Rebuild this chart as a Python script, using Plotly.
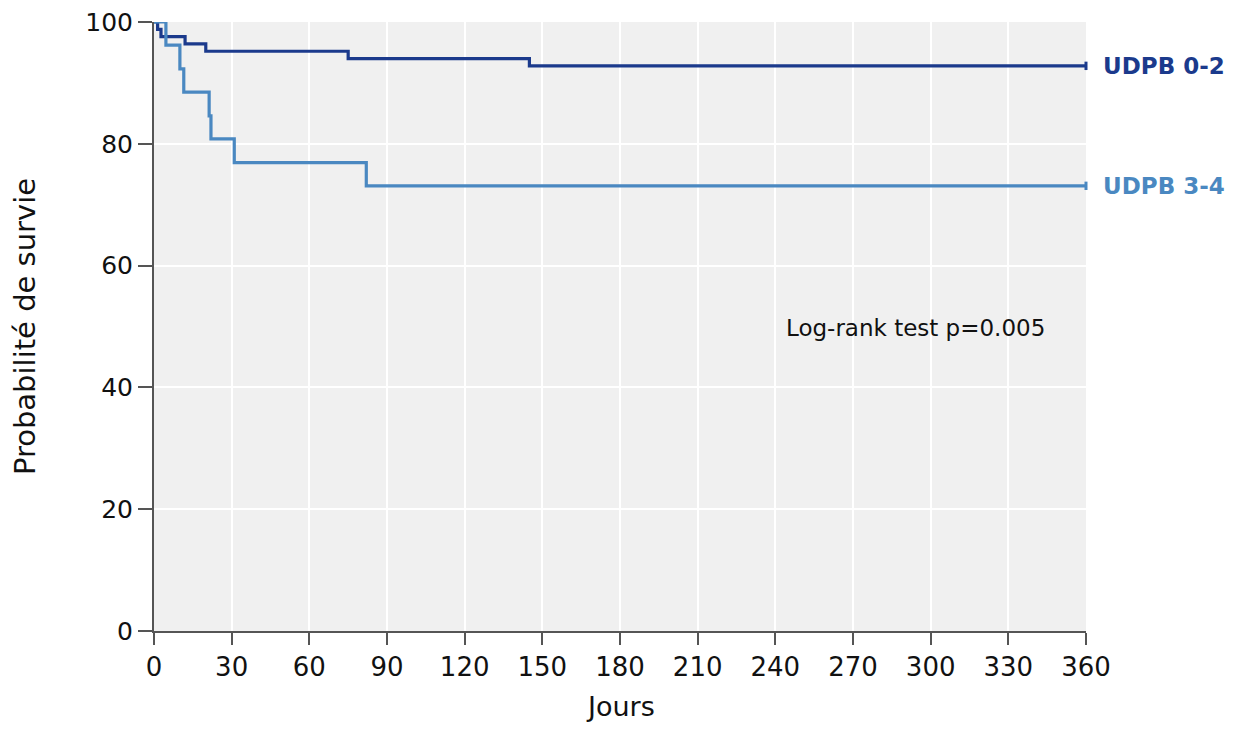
import plotly.graph_objects as go

# Kaplan-Meier estimates (days, survival %)
days_02 = [0, 1.4, 2.7, 12, 20, 75, 145, 360]
surv_02 = [100, 98.8, 97.6, 96.4, 95.2, 94.0, 92.8, 92.8]

days_34 = [0, 4.6, 10, 11.5, 21.3, 22, 31, 82, 360]
surv_34 = [100, 96.2, 92.3, 88.5, 84.6, 80.8, 76.9, 73.1, 73.1]

x_ticks = list(range(0, 361, 30))
y_ticks = list(range(0, 101, 20))

dark = "#1b3a8c"
light = "#4a88c1"
font = "DejaVu Sans"

fig = go.Figure()
fig.add_trace(go.Scatter(x=days_02, y=surv_02, mode="lines", line=dict(color=dark, width=3.2, shape="hv"),
                         cliponaxis=False, showlegend=False))
fig.add_trace(go.Scatter(x=days_34, y=surv_34, mode="lines", line=dict(color=light, width=3.2, shape="hv"),
                         cliponaxis=False, showlegend=False))
# censor marks at end of follow-up
fig.add_trace(go.Scatter(x=[days_02[-1]], y=[surv_02[-1]], mode="markers",
                         marker=dict(symbol="line-ns", size=6, line=dict(color=dark, width=3)),
                         cliponaxis=False, showlegend=False))
fig.add_trace(go.Scatter(x=[days_34[-1]], y=[surv_34[-1]], mode="markers",
                         marker=dict(symbol="line-ns", size=6, line=dict(color=light, width=3)),
                         cliponaxis=False, showlegend=False))

fig.add_annotation(x=1, xref="paper", y=surv_02[-1], yref="y", text="<b>UDPB 0-2</b>", showarrow=False,
                   xanchor="left", xshift=15, font=dict(family=font, size=23, color=dark))
fig.add_annotation(x=1, xref="paper", y=surv_34[-1], yref="y", text="<b>UDPB 3-4</b>", showarrow=False,
                   xanchor="left", xshift=15, font=dict(family=font, size=23, color=light))
fig.add_annotation(x=243.5, y=49.8, text="Log-rank test p=0.005", showarrow=False, xanchor="left",
                   font=dict(family=font, size=23, color="#111"))
# x-axis title
fig.add_annotation(x=0.5, xref="paper", y=0, yref="paper", text="Jours", showarrow=False,
                   yanchor="middle", yshift=-75, font=dict(family=font, size=27, color="#111"))

# page body has an 8px margin, so the figure is sized to fit the window
fig.update_layout(
    width=1223, height=717,
    margin=dict(l=146, r=145, t=14, b=94),
    paper_bgcolor="white", plot_bgcolor="#f0f0f0",
    font=dict(family=font, size=26, color="#111"),
)
fig.update_xaxes(range=[0, 360], tickvals=x_ticks, showgrid=True, gridcolor="white", gridwidth=2,
                 zeroline=False, showline=True, linecolor="#555", linewidth=2, automargin=False,
                 ticklabeloverflow="allow",
                 ticks="outside", ticklen=12, tickwidth=2, tickcolor="#555")
fig.update_yaxes(range=[0, 100], tickvals=y_ticks, showgrid=True, gridcolor="white", gridwidth=2,
                 zeroline=False, showline=True, linecolor="#555", linewidth=2, automargin=False,
                 ticklabeloverflow="allow", tickfont=dict(size=25),
                 ticks="outside", ticklen=14, tickwidth=2, tickcolor="#555",
                 title=dict(text="Probabilité de survie", font=dict(size=29), standoff=53))

fig.write_html("out.html")
